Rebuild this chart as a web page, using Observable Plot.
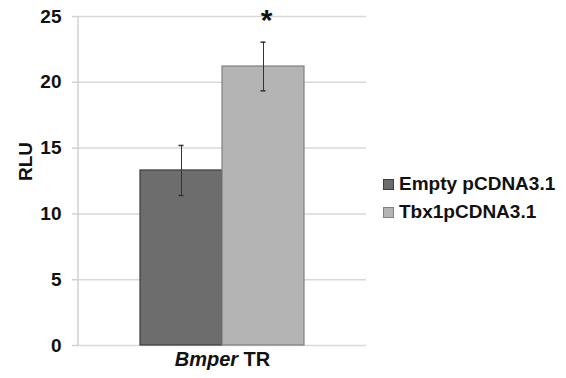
<!DOCTYPE html>
<html>
<head>
<meta charset="utf-8">
<script src="https://cdn.jsdelivr.net/npm/d3@7"></script>
<script src="https://cdn.jsdelivr.net/npm/@observablehq/plot@0.6"></script>
<style>
  body { margin: 0; background: #fff; font-family: "Liberation Sans", Arial, sans-serif; }
  #wrap { position: relative; width: 566px; height: 378px; }
  .legend { position: absolute; left: 383px; top: 170px; font: bold 19px "Liberation Sans", Arial, sans-serif; color: #111; }
  .legend div { display: flex; align-items: center; height: 28px; }
  .legend span.sw { display: inline-block; width: 11px; height: 11px; margin-right: 5px; box-sizing: border-box; }
</style>
</head>
<body>
<div id="wrap"></div>
<script>
const series = ["Empty pCDNA3.1", "Tbx1pCDNA3.1"];
const values = [13.3, 21.2];
const errors = [1.9, 1.85];
const group = "Bmper TR";
const yTicks = [0, 5, 10, 15, 20, 25];
const significance = ["", "*"];
const fills = ["#6d6d6d", "#b4b4b4"];
const strokes = ["#3c3c3c", "#7f7f7f"];

const data = series.map((s, i) => ({series: s, value: values[i], err: errors[i], sig: significance[i]}));

const chart = Plot.plot({
  width: 566,
  height: 378,
  marginLeft: 78,
  marginRight: 200,
  marginTop: 16,
  marginBottom: 33,
  style: {fontFamily: "'Liberation Sans', Arial, sans-serif", background: "#fff"},
  x: {domain: series, paddingInner: 0, paddingOuter: 0.756, axis: null},
  y: {domain: [0, 25], ticks: yTicks, label: null},
  color: {domain: series, range: fills},
  marks: [
    Plot.gridY(yTicks, {stroke: "#d9d9d9", strokeOpacity: 1, strokeWidth: 1.5}),
    Plot.axisY(yTicks, {tickSize: 6, tickPadding: 11, stroke: "#d0d0d0", strokeWidth: 1.5, fontSize: 19, fontWeight: "bold", fill: "#111", label: null}),
    Plot.barY(data, {x: "series", y: "value", fill: "series", stroke: (d, i) => strokes[i], strokeWidth: 1.2}),
    Plot.ruleX(data, {x: "series", y1: d => d.value - d.err, y2: d => d.value + d.err, stroke: "#333", strokeWidth: 1}),
    Plot.tickY(data, {x: "series", y: d => d.value - d.err, stroke: "#333", strokeWidth: 1.5, insetLeft: 38.5, insetRight: 38.5}),
    Plot.tickY(data, {x: "series", y: d => d.value + d.err, stroke: "#333", strokeWidth: 1.5, insetLeft: 38.5, insetRight: 38.5}),
    Plot.text(data.filter(d => d.sig), {x: "series", y: d => d.value + d.err, text: "sig", dx: 3, dy: -22, fontSize: 30, fontWeight: "bold", fill: "#111"}),
    Plot.text([group], {frameAnchor: "bottom", dy: 20, text: d => d, fontSize: 20, fontWeight: "bold", fill: "#111", className: "grouplabel"}),
    Plot.text(["RLU"], {frameAnchor: "left", dx: -53, rotate: -90, text: d => d, fontSize: 19, fontWeight: "bold", fill: "#111"})
  ]
});

// vertical y axis line at frame left
const svg = d3.select(chart);
const yScale = chart.scale("y");
svg.append("line")
  .attr("x1", 78).attr("x2", 78)
  .attr("y1", yScale.apply(0)).attr("y2", yScale.apply(25))
  .attr("stroke", "#d0d0d0").attr("stroke-width", 1.5);

// italic gene name in group label
svg.selectAll("g.grouplabel text").each(function() {
  const t = d3.select(this);
  const parts = t.text().split(" ");
  t.text(null);
  t.append("tspan").attr("font-style", "italic").text(parts[0]);
  t.append("tspan").text(" " + parts.slice(1).join(" "));
});

const wrap = document.getElementById("wrap");
wrap.appendChild(chart);
const legend = document.createElement("div");
legend.className = "legend";
series.forEach((s, i) => {
  const row = document.createElement("div");
  const sw = document.createElement("span");
  sw.className = "sw";
  sw.style.background = fills[i];
  sw.style.border = "1px solid " + strokes[i];
  row.appendChild(sw);
  row.appendChild(document.createTextNode(s));
  legend.appendChild(row);
});
wrap.appendChild(legend);
</script>
</body>
</html>
